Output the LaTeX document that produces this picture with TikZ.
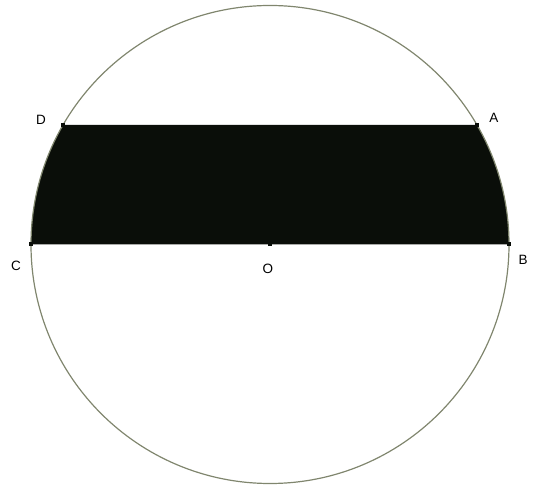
\documentclass[tikz,border=0pt]{standalone}
\usepackage{fontspec}
\setmainfont{Liberation Sans}
\usetikzlibrary{calc}
\definecolor{rim}{RGB}{128,134,110}
\definecolor{ink}{RGB}{10,14,9}

\begin{document}
\begin{tikzpicture}[x=1pt, y=1pt,
    lbl/.style={inner sep=0pt, font=\fontsize{13.5}{15}\selectfont},
    dot/.style={fill=ink, minimum size=4pt, inner sep=0pt}]
  % 1 unit = 1 px, O at the centre
  \def\r{239}
  \useasboundingbox (-270,-241.5) rectangle (268,244.5);

  % Points on the circle
  \coordinate (O) at (0,0);
  \coordinate (B) at (0:\r);
  \coordinate (A) at (30:\r);
  \coordinate (D) at (150:\r);
  \coordinate (C) at (180:\r);

  % Shaded part between chord DA and diameter CB
  \fill[ink] (C) -- (B) arc[start angle=0, end angle=30, radius=\r]
    -- (D) arc[start angle=150, end angle=180, radius=\r] -- cycle;

  % Circle
  \draw[rim, line width=1.2pt] (O) circle[radius=\r];

  % Marks
  \foreach \p in {A,B,C,D,O} {
    \node[dot] at (\p) {};
  }

  % Labels
  \node[lbl] (lA) at ($(A)+(17,7)$) {A};
  \node[lbl] (lB) at ($(B)+(14,-15)$) {B};
  \node[lbl] (lC) at ($(C)+(-15,-21)$) {C};
  \node[lbl] (lD) at ($(D)+(-22,5)$) {D};
  \node[lbl] (lO) at ($(O)+(-2,-24)$) {O};

\end{tikzpicture}
\end{document}
